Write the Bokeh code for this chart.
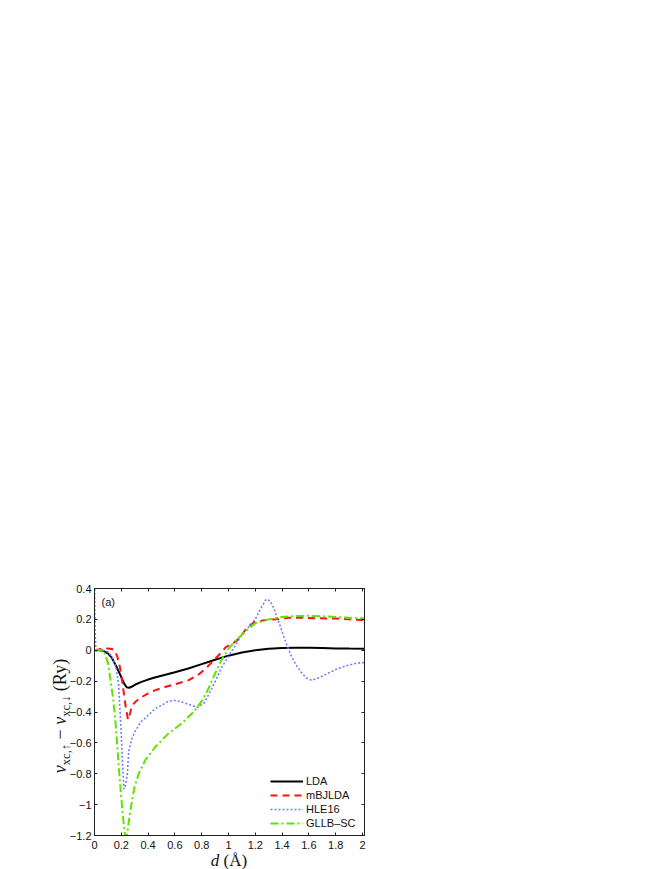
from bokeh.plotting import figure
from bokeh.models import (Range1d, FixedTicker, LinearAxis, Legend, LegendItem, Label, Div)
from bokeh.layouts import row, column
from bokeh.embed import file_html
from bokeh.resources import INLINE

# ---------------- data ----------------
lda_d = [0, 0.04, 0.07, 0.1, 0.13, 0.16, 0.19, 0.22, 0.24, 0.26, 0.28, 0.31, 0.35, 0.4, 0.45,
         0.5, 0.6, 0.7, 0.8, 0.9, 1.0, 1.1, 1.2, 1.3, 1.4, 1.5, 1.6, 1.7, 1.8, 1.9, 2.02]
lda_v = [0, 0, -0.005, -0.02, -0.05, -0.1, -0.155, -0.215, -0.24, -0.243, -0.235, -0.22, -0.205,
         -0.19, -0.177, -0.165, -0.142, -0.118, -0.09, -0.062, -0.035, -0.015, 0.0, 0.01, 0.015,
         0.017, 0.016, 0.014, 0.012, 0.011, 0.01]

mbj_d = [0, 0.03, 0.06, 0.1, 0.13, 0.15, 0.17, 0.19, 0.21, 0.23, 0.25, 0.265, 0.28, 0.31, 0.35,
         0.4, 0.45, 0.5, 0.6, 0.7, 0.78, 0.84, 0.89, 0.94, 0.98, 1.02, 1.06, 1.1, 1.14, 1.2, 1.27,
         1.35, 1.45, 1.55, 1.65, 1.8, 1.9, 2.02]
mbj_v = [0, 0.005, 0.012, 0.012, 0.008, 0.0, -0.04, -0.11, -0.22, -0.35, -0.45, -0.41, -0.36,
         -0.33, -0.305, -0.28, -0.26, -0.245, -0.22, -0.195, -0.155, -0.11, -0.065, -0.02, 0.02,
         0.04, 0.06, 0.1, 0.15, 0.185, 0.195, 0.2, 0.21, 0.21, 0.208, 0.205, 0.2, 0.195]

hle_d = [0, 0.004, 0.01, 0.05, 0.1, 0.13, 0.16, 0.18, 0.2, 0.21, 0.22, 0.23, 0.245, 0.256, 0.28,
         0.306, 0.35, 0.39, 0.45, 0.505, 0.55, 0.6, 0.65, 0.7, 0.77, 0.82, 0.88, 0.95, 1.0, 1.05,
         1.1, 1.15, 1.2, 1.24, 1.28, 1.31, 1.34, 1.38, 1.42, 1.46, 1.5, 1.54, 1.58, 1.62, 1.67,
         1.73, 1.8, 1.88, 1.95, 2.0, 2.02]
hle_v = [0.5, 0.15, 0.0, 0.0, -0.01, -0.04, -0.11, -0.22, -0.55, -0.75, -0.9, -0.88, -0.8, -0.65,
         -0.57, -0.52, -0.46, -0.43, -0.38, -0.355, -0.33, -0.325, -0.335, -0.35, -0.37, -0.34,
         -0.24, -0.11, -0.04, 0.03, 0.1, 0.15, 0.2, 0.27, 0.33, 0.32, 0.27, 0.17, 0.07, -0.02,
         -0.09, -0.14, -0.18, -0.195, -0.18, -0.155, -0.125, -0.1, -0.085, -0.08, -0.085]

gllb_d = [0, 0.04, 0.07, 0.1, 0.12, 0.14, 0.16, 0.18, 0.2, 0.215, 0.228, 0.235, 0.244, 0.26,
          0.281, 0.3, 0.33, 0.38, 0.45, 0.55, 0.65, 0.75, 0.8, 0.85, 0.9, 0.95, 1.0, 1.05, 1.1,
          1.15, 1.2, 1.3, 1.4, 1.5, 1.6, 1.7, 1.8, 1.9, 2.02]
gllb_v = [0, 0, -0.005, -0.08, -0.2, -0.32, -0.5, -0.74, -0.96, -1.1, -1.2, -1.26, -1.19, -1.08,
          -0.97, -0.88, -0.8, -0.71, -0.63, -0.54, -0.475, -0.39, -0.33, -0.25, -0.15, -0.06,
          0.01, 0.06, 0.1, 0.14, 0.175, 0.2, 0.215, 0.222, 0.223, 0.22, 0.216, 0.21, 0.205]

series_names = ["LDA", "mBJLDA", "HLE16", "GLLB\u2013SC"]

x_ticks = [0, 0.2, 0.4, 0.6, 0.8, 1, 1.2, 1.4, 1.6, 1.8, 2]
x_tick_labels = ["0", "0.2", "0.4", "0.6", "0.8", "1", "1.2", "1.4", "1.6", "1.8", "2"]
y_ticks = [-1.2, -1, -0.8, -0.6, -0.4, -0.2, 0, 0.2, 0.4]
y_tick_labels = ["\u22121.2", "\u22121", "\u22120.8", "\u22120.6", "\u22120.4", "\u22120.2",
                 "0", "0.2", "0.4"]

# ---------------- figure ----------------
TICK_FONT = "Liberation Sans"
SERIF = "'Liberation Serif', 'DejaVu Serif', serif"

YDIV_W = 66
P_H = 853

p = figure(width=318, height=P_H, output_backend="svg", toolbar_location=None,
           x_range=Range1d(0, 2.015), y_range=Range1d(-1.2, 0.4),
           frame_width=270, frame_height=247,
           min_border_left=26, min_border_top=588, min_border_right=20, min_border_bottom=18,
           x_axis_location=None, y_axis_location=None, margin=0)
p.grid.visible = False
p.outline_line_color = "#222222"
p.outline_line_width = 1
p.background_fill_color = "white"
p.border_fill_color = None


def style_axis(ax, ticks, labels, show_labels, standoff):
    ax.ticker = FixedTicker(ticks=ticks)
    ax.major_label_overrides = {t: (l if show_labels else "") for t, l in zip(ticks, labels)}
    ax.major_tick_in = 3
    ax.major_tick_out = 0
    ax.minor_tick_line_color = None
    ax.major_tick_line_color = "#222222"
    ax.axis_line_color = "#222222"
    ax.major_label_text_font = TICK_FONT
    ax.major_label_text_font_size = "11px" if show_labels else "0px"
    ax.major_label_text_color = "#111111"
    ax.major_label_standoff = standoff


xb = LinearAxis()
style_axis(xb, x_ticks, x_tick_labels, True, 5)
p.add_layout(xb, "below")
yl = LinearAxis()
style_axis(yl, y_ticks, y_tick_labels, True, 3)
p.add_layout(yl, "left")
xa = LinearAxis()
style_axis(xa, x_ticks, x_tick_labels, False, 0)
p.add_layout(xa, "above")
yr = LinearAxis()
style_axis(yr, y_ticks, y_tick_labels, False, 0)
p.add_layout(yr, "right")

r_lda = p.line(lda_d, lda_v, line_color="black", line_width=2)
r_mbj = p.line(mbj_d, mbj_v, line_color="#ff1010", line_width=2, line_dash="7 5")
r_hle = p.line(hle_d, hle_v, line_color="#6f80ff", line_width=1.6, line_dash="2 2")
r_gllb = p.line(gllb_d, gllb_v, line_color="#5fe400", line_width=2, line_dash="8 3 2 3")

legend = Legend(items=[LegendItem(label=n, renderers=[r]) for n, r in
                       zip(series_names, [r_lda, r_mbj, r_hle, r_gllb])],
                location=(176, 5), padding=0, margin=0, spacing=0,
                glyph_width=33, glyph_height=14, label_height=14, label_standoff=3,
                border_line_color=None, background_fill_alpha=0,
                label_text_font=TICK_FONT, label_text_font_size="11px",
                label_text_color="#111111")
p.add_layout(legend)

p.add_layout(Label(x=7, y=234, x_units="screen", y_units="screen", text="(a)",
                   text_baseline="middle", text_font=TICK_FONT, text_font_size="11px",
                   text_color="#111111"))

# ---------------- axis labels as HTML text ----------------
sub = "font-size:12.5px;position:relative;top:4px;"
ylabel_html = (
    f'<div style="position:relative;width:{YDIV_W}px;height:{P_H}px;">'
    f'<div style="position:absolute;left:61px;top:716px;white-space:nowrap;'
    f'font-family:{SERIF};font-size:18px;line-height:18px;color:#111;'
    f'transform:translate(-50%,-50%) rotate(-90deg);">'
    f'<i>v</i><span style="{sub}">xc,\u2191</span>'
    f'&nbsp;\u2212&nbsp;'
    f'<i>v</i><span style="{sub}">xc,\u2193</span>'
    f'&nbsp;(Ry)</div></div>'
)
ydiv = Div(text=ylabel_html, width=YDIV_W, height=P_H, margin=0,
           styles={"overflow": "visible"})

xlabel_html = (
    f'<div style="position:relative;width:376px;height:16px;">'
    f'<div style="position:absolute;left:129px;width:200px;top:-1px;text-align:center;'
    f'white-space:nowrap;font-family:{SERIF};font-size:17px;line-height:17px;color:#111;">'
    f'<i>d</i>&nbsp;(\u00c5)</div></div>'
)
xdiv = Div(text=xlabel_html, width=384, height=16, margin=0, styles={"overflow": "visible"})

layout = column(row(ydiv, p, spacing=0, margin=0), xdiv, spacing=0, margin=0)

open("out.html", "w").write(file_html(layout, INLINE))
